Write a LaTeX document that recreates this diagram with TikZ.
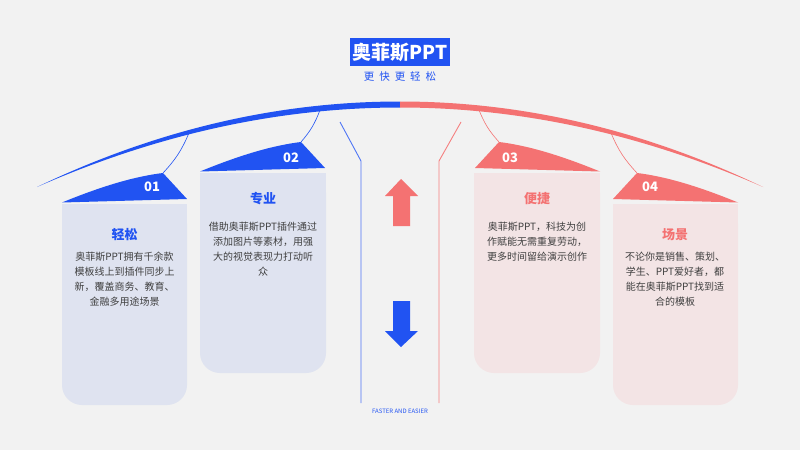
\documentclass[tikz,border=0pt]{standalone}
\usepackage{fontspec}
\setmainfont{Noto Sans CJK SC}
\usepackage{tikz}
\definecolor{bgc}{HTML}{F2F2F2}
\definecolor{blueA}{HTML}{2153F2}
\definecolor{redA}{HTML}{F47272}
\definecolor{cardB}{HTML}{DFE3F0}
\definecolor{cardR}{HTML}{F3E4E5}
\definecolor{txt}{HTML}{404040}

\begin{document}
\begin{tikzpicture}[x=1pt, y=-1pt,
  body/.style={text=txt, font=\fontsize{10}{15}\selectfont, align=center, inner sep=0pt, anchor=north},
  head/.style={font=\fontsize{13}{13}\selectfont\bfseries},
  num/.style={text=white, font=\fontsize{13}{13}\selectfont\bfseries},
  link/.style={line width=0.6pt}]
\useasboundingbox (0,0) rectangle (800,450);
\fill[bgc] (0,0) rectangle (800,450);

% big arc
\fill[blueA] (37,187) .. controls (158,129) and (279,101.5) .. (400,101.5) -- (400,107.5) .. controls (279,107.5) and (158,134) .. (37,187) -- cycle;
\fill[redA] (763,187) .. controls (642,129) and (521,101.5) .. (400,101.5) -- (400,107.5) .. controls (521,107.5) and (642,134) .. (763,187) -- cycle;

% title
\node[fill=blueA, text=white, minimum width=100, minimum height=28, inner sep=0pt, font=\fontsize{19}{19}\selectfont\bfseries] (title) at (400,52) {奥菲斯PPT};
\node[text=blueA, font=\fontsize{10.5}{10.5}\selectfont] (sub) at (400,77) {更\hspace{5pt}快\hspace{5pt}更\hspace{5pt}轻\hspace{5pt}松};

% cards
\fill[cardB, rounded corners=20] (62,204) rectangle (187,405);
\fill[cardB] (62,204) rectangle (187,300);
\fill[cardB, rounded corners=20] (200,173) rectangle (326,373);
\fill[cardB] (200,173) rectangle (326,270);
\fill[cardR, rounded corners=20] (474,173) rectangle (600,373);
\fill[cardR] (474,173) rectangle (600,270);
\fill[cardR, rounded corners=20] (613,204) rectangle (738,405);
\fill[cardR] (613,204) rectangle (738,300);

% tabs
\fill[blueA] (62,202.5) .. controls (95,189) and (130,177) .. (163,173) -- (187,199) -- cycle;
\fill[blueA] (200,171.5) .. controls (233,158) and (268,146) .. (301,142) -- (325,168) -- cycle;
\fill[redA] (600,171.5) .. controls (567,158) and (532,146) .. (499,142) -- (475,168) -- cycle;
\fill[redA] (738,202.5) .. controls (705,189) and (670,177) .. (637,173) -- (613,199) -- cycle;

\node[num] (n1) at (152,187) {01};
\node[num] (n2) at (291,158) {02};
\node[num] (n3) at (510,158) {03};
\node[num] (n4) at (650,187) {04};

% connectors
\coordinate (p1) at (163,173); \coordinate (q1) at (189,133);
\coordinate (p2) at (301,142); \coordinate (q2) at (320,110);
\coordinate (p3) at (499,142); \coordinate (q3) at (479,110);
\coordinate (p4) at (637,173); \coordinate (q4) at (611,133);
\draw[blueA, link] (p1) to[bend right=10] (q1);
\draw[blueA, link] (p2) to[bend right=10] (q2);
\draw[redA, link] (p3) to[bend left=10] (q3);
\draw[redA, link] (p4) to[bend left=10] (q4);

% middle
\draw[blueA!80, line width=0.9pt] (340,122)--(361,161)--(361,403);
\draw[redA!90, line width=0.9pt] (461,122)--(439,161)--(439,403);
\fill[redA] (401,179)--(418,196)--(410,196)--(410,226)--(393,226)--(393,196)--(385,196)--cycle;
\fill[blueA] (393,301)--(410,301)--(410,331)--(418,331)--(401,347)--(385,331)--(393,331)--cycle;
\node[text=blueA, font=\fontsize{6}{6}\selectfont] (tag) at (400,411) {FASTER AND EASIER};

% texts
\node[head, text=blueA] (h1) at (124.5,235) {轻松};
\node[head, text=blueA] (h2) at (263,199) {专业};
\node[head, text=redA] (h3) at (537,199) {便捷};
\node[head, text=redA] (h4) at (675,235) {场景};

\node[body] (b1) at (124.5,252) {奥菲斯PPT拥有千余款\\模板线上到插件同步上\\新，覆盖商务、教育、\\金融多用途场景};
\node[body] (b2) at (263,222) {借助奥菲斯PPT插件通过\\添加图片等素材，用强\\大的视觉表现力打动听\\众};
\node[body] (b3) at (537,222) {奥菲斯PPT，科技为创\\作赋能无需重复劳动，\\更多时间留给演示创作};
\node[body] (b4) at (675,252) {不论你是销售、策划、\\学生、PPT爱好者，都\\能在奥菲斯PPT找到适\\合的模板};

\end{tikzpicture}
\end{document}
